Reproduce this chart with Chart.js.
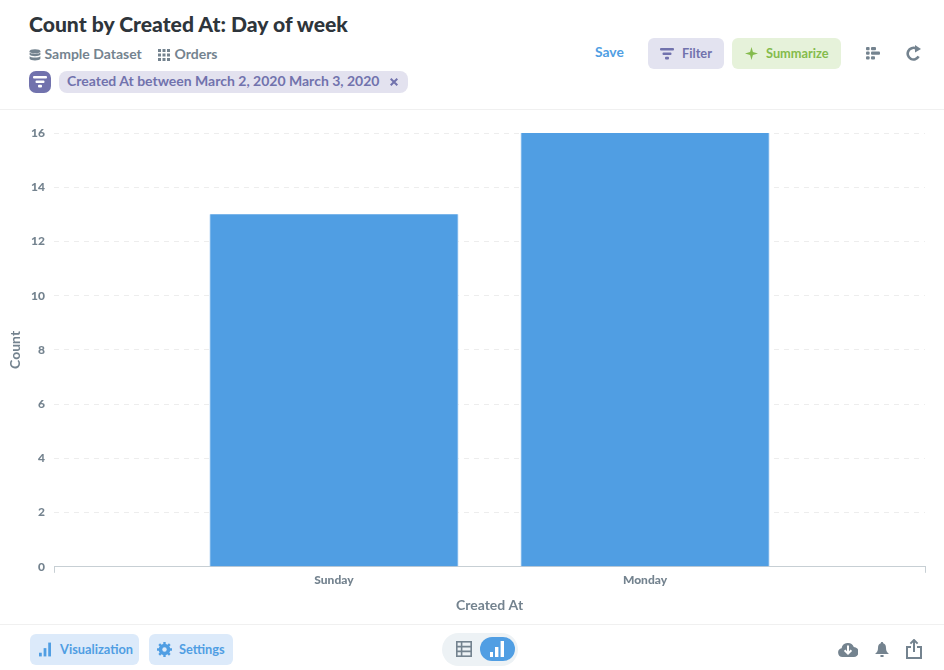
<!DOCTYPE html>
<html>
<head>
<meta charset="utf-8">
<title>Count by Created At: Day of week</title>
<script src="https://cdn.jsdelivr.net/npm/chart.js@4"></script>
<style>
  html, body { margin: 0; padding: 0; background: #fff; }
  body { width: 944px; height: 670px; overflow: hidden; position: relative; font-family: Lato, sans-serif; font-weight: 700; color: #74838f; }
  .abs { position: absolute; white-space: nowrap; }
  .btn { position: absolute; border-radius: 6px; font-size: 12.8px; line-height: 30px; height: 31px; box-sizing: border-box; }
  .btn span { position: absolute; top: 0; white-space: nowrap; }
  svg { position: absolute; display: block; }
  #wrap { position: absolute; left: 0; top: 110px; width: 944px; height: 514px; }
  canvas { display: block; }
</style>
</head>
<body>

<div class="abs" style="left:29px;top:10px;font-size:21.13px;font-weight:900;color:#2e353b;line-height:28px">Count by Created At: Day of week</div>

<svg style="left:29px;top:49px" width="12" height="12" viewBox="0 0 12 12" fill="#74838f"><ellipse cx="6" cy="2.2" rx="5.4" ry="2"/><path d="M.6 3.6c1 1.6 9.8 1.6 10.8 0v2.2c-1 1.8-9.8 1.8-10.8 0zM.6 7.3c1 1.6 9.8 1.6 10.8 0v2.4c-.8 2.3-10 2.3-10.8 0z"/></svg>
<div class="abs" style="left:44.500px;top:45px;font-size:14px;line-height:17px;font-weight:700">Sample Dataset</div>
<svg style="left:158px;top:49px" width="12" height="12" viewBox="0 0 12 12" fill="#74838f"><rect x="0" y="0" width="3" height="3"/><rect x="4.5" y="0" width="3" height="3"/><rect x="9" y="0" width="3" height="3"/><rect x="0" y="4.5" width="3" height="3"/><rect x="4.5" y="4.5" width="3" height="3"/><rect x="9" y="4.5" width="3" height="3"/><rect x="0" y="9" width="3" height="3"/><rect x="4.5" y="9" width="3" height="3"/><rect x="9" y="9" width="3" height="3"/></svg>
<div class="abs" style="left:174.500px;top:45px;font-size:14px;line-height:17px">Orders</div>

<div class="abs" style="left:29px;top:71px;width:22px;height:22px;border-radius:7px;background:#7172ad"></div>
<svg style="left:33px;top:76px" width="14" height="12" viewBox="0 0 14 12" fill="#fff"><rect x="0" y="0" width="14" height="2.6" rx="1"/><rect x="2.5" y="4.4" width="9" height="2.6" rx="1"/><rect x="5" y="8.8" width="4" height="2.6" rx="1"/></svg>
<div class="abs" style="left:59px;top:71px;width:349px;height:22px;border-radius:8px;background:#e3e2ef"></div>
<div class="abs" style="left:67px;top:70px;font-size:14px;line-height:21px;color:#7172ad">Created At between March 2, 2020 March 3, 2020</div>
<svg style="left:390px;top:78px" width="8" height="8" viewBox="0 0 8 8" stroke="#7172ad" stroke-width="2"><path d="M.7.7l6.6 6.6M7.3.7L.7 7.3"/></svg>

<div class="abs" style="left:595px;top:43px;font-size:13.8px;line-height:17px;color:#509ee3">Save</div>

<div class="btn" style="left:648px;top:38px;width:76px;background:#e3e3f0;color:#7172ad">
  <svg style="left:12px;top:10px" width="14" height="12" viewBox="0 0 14 12" fill="#7172ad"><rect x="0" y="0" width="14" height="2.6" rx="1"/><rect x="2.5" y="4.4" width="9" height="2.6" rx="1"/><rect x="5" y="8.8" width="4" height="2.6" rx="1"/></svg>
  <span style="left:34px">Filter</span>
</div>
<div class="btn" style="left:732px;top:38px;width:109px;background:#e6f2da;color:#84bb4c">
  <svg style="left:13px;top:9px" width="13" height="13" viewBox="0 0 13 13" fill="#84bb4c"><path d="M6.5 0l1.400 5.100L13 6.500 7.900 7.900 6.500 13 5.100 7.900 0 6.500l5.100-1.400z"/></svg>
  <span style="left:34px">Summarize</span>
</div>

<svg style="left:866px;top:46px" width="14" height="14" viewBox="0 0 14 14" fill="#74838f"><rect x="0" y="1" width="3.6" height="3.2" rx="1"/><rect x="5" y="1" width="5" height="3.2" rx="1"/><rect x="0" y="5.6" width="3.6" height="3.2" rx="1"/><rect x="5" y="5.6" width="9" height="3.2" rx="1"/><rect x="0" y="10.2" width="3.6" height="3.2" rx="1"/><rect x="5" y="10.2" width="4" height="3.2" rx="1"/></svg>
<svg style="left:906px;top:45px" width="16" height="16" viewBox="0 0 16 16"><path d="M12.6 11.4A5.8 5.8 0 1 1 10 3.4" fill="none" stroke="#74838f" stroke-width="2.6"/><path d="M9 0l6 4-6 3.6z" fill="#74838f"/></svg>

<div class="abs" style="left:0;top:109px;width:944px;height:1px;background:#f0f0f0"></div>

<div id="wrap"><canvas id="myChart" width="944" height="514"></canvas></div>

<div class="abs" style="left:0;top:624px;width:944px;height:1px;background:#f0f0f0"></div>

<div class="btn" style="left:30px;top:634px;width:109px;background:#dceafa;color:#509ee3">
  <svg style="left:9px;top:8px" width="12" height="15" viewBox="0 0 13 15" fill="#509ee3"><rect x="0" y="11" width="3" height="4"/><rect x="5" y="6" width="3" height="9"/><rect x="10" y="0" width="3" height="15"/></svg>
  <span style="left:30px">Visualization</span>
</div>
<div class="btn" style="left:149px;top:634px;width:84px;background:#dceafa;color:#509ee3">
  <svg style="left:8px;top:8px" width="15" height="15" viewBox="0 0 15 15"><circle cx="7.5" cy="7.5" r="4.2" fill="none" stroke="#509ee3" stroke-width="3.2"/><path d="M7.5 0v15M0 7.5h15M2.2 2.2l10.6 10.6M12.8 2.2L2.2 12.8" stroke="#509ee3" stroke-width="2.4"/><circle cx="7.5" cy="7.5" r="2.2" fill="#dceafa"/></svg>
  <span style="left:30px">Settings</span>
</div>

<div class="abs" style="left:442px;top:633px;width:76px;height:33px;border-radius:17px;background:#edf2f5"></div>
<svg style="left:456px;top:641px" width="16" height="16" viewBox="0 0 16 16" fill="none" stroke="#74838f" stroke-width="1.6"><rect x=".8" y=".8" width="14.4" height="14.4"/><path d="M.8 5.6h14.4M.8 10.4h14.4M5.6.8v14.4"/></svg>
<div class="abs" style="left:480px;top:637px;width:35px;height:24px;border-radius:12px;background:#509ee3"></div>
<svg style="left:490px;top:641px" width="14" height="16" viewBox="0 0 14 16" fill="#fff"><rect x="0" y="11" width="3" height="5"/><rect x="5" y="6" width="3.4" height="10"/><rect x="10.6" y="0" width="3.4" height="16"/></svg>

<svg style="left:838px;top:642px" width="20" height="15" viewBox="0 0 20 15"><path d="M4.5 15A4.4 4.4 0 0 1 3.6 6.3 6.4 6.4 0 0 1 15.8 5 5 5 0 0 1 15.5 15z" fill="#74838f"/><path d="M10 3.6v8M6.6 8.2l3.4 3.4 3.4-3.4" fill="none" stroke="#fff" stroke-width="2"/></svg>
<svg style="left:875px;top:642px" width="14" height="15" viewBox="0 0 14 15" fill="#74838f"><path d="M7 0c.8 0 1.2.5 1.2 1.2C10.400 1.800 11 3.800 11 6c0 3 1 4.500 3 6H0c2-1.500 3-3 3-6 0-2.200.6-4.200 2.800-4.800C5.800.5 6.200 0 7 0z"/><rect x="5.200" y="13" width="3.600" height="2" rx="1"/></svg>
<svg style="left:906px;top:639px" width="16" height="20" viewBox="0 0 16 20" fill="none" stroke="#74838f" stroke-width="2"><path d="M5 8H1v11h14V8h-4"/><path d="M8 13V2"/><path d="M4.400 4.600L8 1l3.600 3.600" stroke-width="2"/></svg>

<script>
// Chart data
let categories = ['Sunday', 'Monday'];
let counts = [13, 16];
let yTicks = [0, 2, 4, 6, 8, 10, 12, 14, 16];

let xMin = -0.9;
let xMax = 1.9;

let ctx = document.getElementById('myChart').getContext('2d');

let points = [];
categories.forEach((name, i) => {
  points.push({ x: i, y: counts[i] });
});

new Chart(ctx, {
  type: 'bar',
  data: {
    datasets: [{
      label: 'Count',
      data: points,
      backgroundColor: '#509ee3',
      borderColor: '#b5d5f3',
      borderWidth: { left: 1, right: 1, top: 0, bottom: 0 },
      barThickness: 248.5
    }]
  },
  options: {
    responsive: false,
    animation: false,
    plugins: {
      legend: { display: false },
      tooltip: { enabled: false }
    },
    layout: { padding: { left: 7, right: 19, top: 23, bottom: 10 } },
    scales: {
      x: {
        type: 'linear',
        offset: false,
        min: xMin,
        max: xMax,
        afterBuildTicks: (axis) => {
          axis.ticks = [xMin, 0, 1, xMax].map(v => ({ value: v }));
        },
        ticks: {
          autoSkip: false,
          maxRotation: 0,
          padding: 0,
          color: '#74838f',
          font: { family: 'Lato', size: 12, weight: 900 },
          callback: (value) => categories[value] || ''
        },
        grid: {
          offset: false,
          drawOnChartArea: false,
          tickLength: 6,
          tickWidth: 1,
          tickColor: (c) => (c.tick && Number.isInteger(c.tick.value)) ? 'rgba(0,0,0,0)' : '#c7cfd4'
        },
        border: { color: '#c7cfd4', width: 1 },
        title: {
          display: true,
          text: 'Created At',
          color: '#74838f',
          font: { family: 'Lato', size: 14, weight: 'bold' },
          padding: { top: 10, bottom: 0 }
        }
      },
      y: {
        min: 0,
        max: 16,
        afterBuildTicks: (axis) => {
          axis.ticks = yTicks.map(v => ({ value: v }));
        },
        afterFit: (axis) => { axis.width = 47; },
        ticks: {
          padding: 9,
          color: '#74838f',
          font: { family: 'Lato', size: 12, weight: 900 }
        },
        grid: {
          drawTicks: false,
          color: (c) => (c.tick && c.tick.value === 0) ? 'rgba(0,0,0,0)' : '#ededed'
        },
        border: { display: false, dash: [5, 5] },
        title: {
          display: true,
          text: 'Count',
          color: '#74838f',
          font: { family: 'Lato', size: 14, weight: 'bold' },
          padding: 0
        }
      }
    }
  }
});
</script>
</body>
</html>
